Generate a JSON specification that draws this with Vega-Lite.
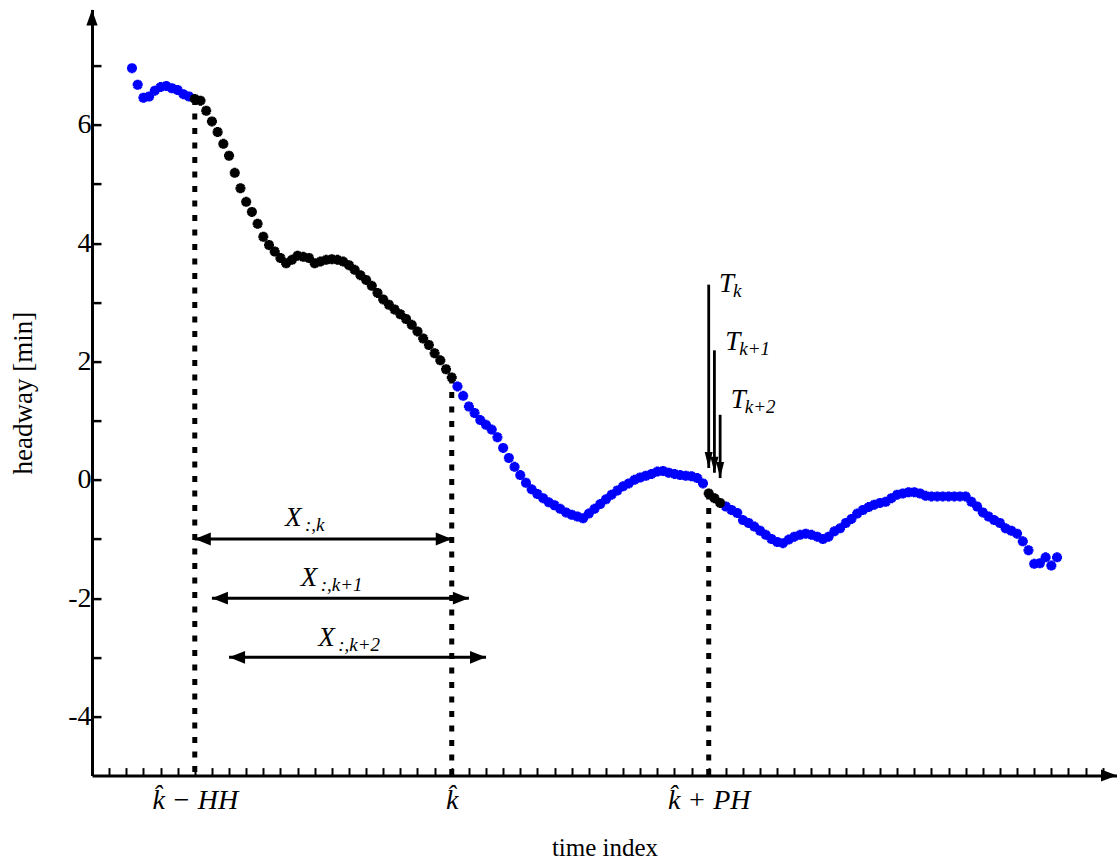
{
  "$schema": "https://vega.github.io/schema/vega-lite/v6.json",
  "width": 1025,
  "height": 766,
  "autosize": {"type": "none"},
  "padding": {"left": 92, "top": 9.6, "right": 0, "bottom": 85.4},
  "background": "white",
  "config": {"view": {"stroke": null}, "font": "Liberation Serif"},
  "datasets": {
    "headway": [
      {"t": 7, "h": 6.96, "seg": "other"}, {"t": 8, "h": 6.68, "seg": "other"}, {"t": 9, "h": 6.46, "seg": "other"},
      {"t": 10, "h": 6.48, "seg": "other"}, {"t": 11, "h": 6.58, "seg": "other"}, {"t": 12, "h": 6.64, "seg": "other"},
      {"t": 13, "h": 6.66, "seg": "other"}, {"t": 14, "h": 6.62, "seg": "other"}, {"t": 15, "h": 6.59, "seg": "other"},
      {"t": 16, "h": 6.52, "seg": "other"}, {"t": 17, "h": 6.48, "seg": "other"},
      {"t": 18, "h": 6.44, "seg": "window"}, {"t": 19, "h": 6.41, "seg": "window"}, {"t": 20, "h": 6.24, "seg": "window"},
      {"t": 21, "h": 6.06, "seg": "window"}, {"t": 22, "h": 5.88, "seg": "window"}, {"t": 23, "h": 5.68, "seg": "window"},
      {"t": 24, "h": 5.48, "seg": "window"}, {"t": 25, "h": 5.19, "seg": "window"}, {"t": 26, "h": 4.93, "seg": "window"},
      {"t": 27, "h": 4.70, "seg": "window"}, {"t": 28, "h": 4.53, "seg": "window"}, {"t": 29, "h": 4.33, "seg": "window"},
      {"t": 30, "h": 4.11, "seg": "window"}, {"t": 31, "h": 3.97, "seg": "window"}, {"t": 32, "h": 3.86, "seg": "window"},
      {"t": 33, "h": 3.75, "seg": "window"}, {"t": 34, "h": 3.66, "seg": "window"}, {"t": 35, "h": 3.72, "seg": "window"},
      {"t": 36, "h": 3.79, "seg": "window"}, {"t": 37, "h": 3.77, "seg": "window"}, {"t": 38, "h": 3.75, "seg": "window"},
      {"t": 39, "h": 3.66, "seg": "window"}, {"t": 40, "h": 3.69, "seg": "window"}, {"t": 41, "h": 3.72, "seg": "window"},
      {"t": 42, "h": 3.73, "seg": "window"}, {"t": 43, "h": 3.72, "seg": "window"}, {"t": 44, "h": 3.69, "seg": "window"},
      {"t": 45, "h": 3.63, "seg": "window"}, {"t": 46, "h": 3.55, "seg": "window"}, {"t": 47, "h": 3.46, "seg": "window"},
      {"t": 48, "h": 3.38, "seg": "window"}, {"t": 49, "h": 3.28, "seg": "window"}, {"t": 50, "h": 3.16, "seg": "window"},
      {"t": 51, "h": 3.05, "seg": "window"}, {"t": 52, "h": 2.96, "seg": "window"}, {"t": 53, "h": 2.88, "seg": "window"},
      {"t": 54, "h": 2.80, "seg": "window"}, {"t": 55, "h": 2.72, "seg": "window"}, {"t": 56, "h": 2.62, "seg": "window"},
      {"t": 57, "h": 2.51, "seg": "window"}, {"t": 58, "h": 2.39, "seg": "window"}, {"t": 59, "h": 2.28, "seg": "window"},
      {"t": 60, "h": 2.14, "seg": "window"}, {"t": 61, "h": 2.02, "seg": "window"}, {"t": 62, "h": 1.87, "seg": "window"},
      {"t": 63, "h": 1.73, "seg": "window"},
      {"t": 64, "h": 1.58, "seg": "other"}, {"t": 65, "h": 1.42, "seg": "other"}, {"t": 66, "h": 1.24, "seg": "other"},
      {"t": 67, "h": 1.13, "seg": "other"}, {"t": 68, "h": 1.01, "seg": "other"}, {"t": 69, "h": 0.93, "seg": "other"},
      {"t": 70, "h": 0.85, "seg": "other"}, {"t": 71, "h": 0.72, "seg": "other"}, {"t": 72, "h": 0.54, "seg": "other"},
      {"t": 73, "h": 0.37, "seg": "other"}, {"t": 74, "h": 0.22, "seg": "other"}, {"t": 75, "h": 0.08, "seg": "other"},
      {"t": 76, "h": -0.05, "seg": "other"}, {"t": 77, "h": -0.16, "seg": "other"}, {"t": 78, "h": -0.24, "seg": "other"},
      {"t": 79, "h": -0.31, "seg": "other"}, {"t": 80, "h": -0.38, "seg": "other"}, {"t": 81, "h": -0.43, "seg": "other"},
      {"t": 82, "h": -0.49, "seg": "other"}, {"t": 83, "h": -0.55, "seg": "other"}, {"t": 84, "h": -0.59, "seg": "other"},
      {"t": 85, "h": -0.62, "seg": "other"}, {"t": 86, "h": -0.65, "seg": "other"}, {"t": 87, "h": -0.57, "seg": "other"},
      {"t": 88, "h": -0.49, "seg": "other"}, {"t": 89, "h": -0.41, "seg": "other"}, {"t": 90, "h": -0.33, "seg": "other"},
      {"t": 91, "h": -0.25, "seg": "other"}, {"t": 92, "h": -0.18, "seg": "other"}, {"t": 93, "h": -0.11, "seg": "other"},
      {"t": 94, "h": -0.06, "seg": "other"}, {"t": 95, "h": 0.00, "seg": "other"}, {"t": 96, "h": 0.04, "seg": "other"},
      {"t": 97, "h": 0.07, "seg": "other"}, {"t": 98, "h": 0.10, "seg": "other"}, {"t": 99, "h": 0.14, "seg": "other"},
      {"t": 100, "h": 0.15, "seg": "other"}, {"t": 101, "h": 0.12, "seg": "other"}, {"t": 102, "h": 0.10, "seg": "other"},
      {"t": 103, "h": 0.08, "seg": "other"}, {"t": 104, "h": 0.07, "seg": "other"}, {"t": 105, "h": 0.06, "seg": "other"},
      {"t": 106, "h": 0.03, "seg": "other"}, {"t": 107, "h": -0.06, "seg": "other"},
      {"t": 108, "h": -0.23, "seg": "target"}, {"t": 109, "h": -0.31, "seg": "target"}, {"t": 110, "h": -0.39, "seg": "target"},
      {"t": 111, "h": -0.45, "seg": "other"}, {"t": 112, "h": -0.51, "seg": "other"}, {"t": 113, "h": -0.56, "seg": "other"},
      {"t": 114, "h": -0.68, "seg": "other"}, {"t": 115, "h": -0.73, "seg": "other"}, {"t": 116, "h": -0.79, "seg": "other"},
      {"t": 117, "h": -0.86, "seg": "other"}, {"t": 118, "h": -0.93, "seg": "other"}, {"t": 119, "h": -1.00, "seg": "other"},
      {"t": 120, "h": -1.05, "seg": "other"}, {"t": 121, "h": -1.07, "seg": "other"}, {"t": 122, "h": -1.01, "seg": "other"},
      {"t": 123, "h": -0.96, "seg": "other"}, {"t": 124, "h": -0.93, "seg": "other"}, {"t": 125, "h": -0.91, "seg": "other"},
      {"t": 126, "h": -0.93, "seg": "other"}, {"t": 127, "h": -0.96, "seg": "other"}, {"t": 128, "h": -1.00, "seg": "other"},
      {"t": 129, "h": -0.96, "seg": "other"}, {"t": 130, "h": -0.87, "seg": "other"}, {"t": 131, "h": -0.82, "seg": "other"},
      {"t": 132, "h": -0.73, "seg": "other"}, {"t": 133, "h": -0.66, "seg": "other"}, {"t": 134, "h": -0.57, "seg": "other"},
      {"t": 135, "h": -0.51, "seg": "other"}, {"t": 136, "h": -0.46, "seg": "other"}, {"t": 137, "h": -0.42, "seg": "other"},
      {"t": 138, "h": -0.39, "seg": "other"}, {"t": 139, "h": -0.37, "seg": "other"}, {"t": 140, "h": -0.31, "seg": "other"},
      {"t": 141, "h": -0.25, "seg": "other"}, {"t": 142, "h": -0.23, "seg": "other"}, {"t": 143, "h": -0.21, "seg": "other"},
      {"t": 144, "h": -0.21, "seg": "other"}, {"t": 145, "h": -0.23, "seg": "other"}, {"t": 146, "h": -0.27, "seg": "other"},
      {"t": 147, "h": -0.28, "seg": "other"}, {"t": 148, "h": -0.28, "seg": "other"}, {"t": 149, "h": -0.28, "seg": "other"},
      {"t": 150, "h": -0.28, "seg": "other"}, {"t": 151, "h": -0.28, "seg": "other"}, {"t": 152, "h": -0.28, "seg": "other"},
      {"t": 153, "h": -0.28, "seg": "other"}, {"t": 154, "h": -0.37, "seg": "other"}, {"t": 155, "h": -0.45, "seg": "other"},
      {"t": 156, "h": -0.55, "seg": "other"}, {"t": 157, "h": -0.62, "seg": "other"}, {"t": 158, "h": -0.68, "seg": "other"},
      {"t": 159, "h": -0.73, "seg": "other"}, {"t": 160, "h": -0.82, "seg": "other"}, {"t": 161, "h": -0.86, "seg": "other"},
      {"t": 162, "h": -0.91, "seg": "other"}, {"t": 163, "h": -1.04, "seg": "other"}, {"t": 164, "h": -1.19, "seg": "other"},
      {"t": 165, "h": -1.42, "seg": "other"}, {"t": 166, "h": -1.41, "seg": "other"}, {"t": 167, "h": -1.31, "seg": "other"},
      {"t": 168, "h": -1.45, "seg": "other"}, {"t": 169, "h": -1.31, "seg": "other"}
    ],
    "cuts": [
      {"t": 18, "h": 6.44},
      {"t": 63, "h": 1.73},
      {"t": 108, "h": -0.23}
    ],
    "windows": [
      {"from": 18, "to": 63, "level": -1, "lx": 33.8, "ly": -0.78, "main": "X", "sub": ":,k"},
      {"from": 21, "to": 66, "level": -2, "lx": 36.55, "ly": -1.79, "main": "X", "sub": ":,k+1"},
      {"from": 24, "to": 69, "level": -3, "lx": 39.6, "ly": -2.81, "main": "X", "sub": ":,k+2"}
    ],
    "targets": [
      {"t": 108, "top": 3.3, "tip": 0.2, "lx": 109.8, "ly": 3.18, "main": "T", "sub": "k"},
      {"t": 109, "top": 2.19, "tip": 0.12, "lx": 110.9, "ly": 2.2, "main": "T", "sub": "k+1"},
      {"t": 110, "top": 1.1, "tip": 0.03, "lx": 111.85, "ly": 1.22, "main": "T", "sub": "k+2"}
    ],
    "axisTips": [
      {"t": 179.5, "h": -5, "dir": "right"},
      {"t": 0, "h": 7.95, "dir": "up"}
    ]
  },
  "layer": [
    {
      "data": {"name": "cuts"},
      "mark": {"type": "rule", "color": "black", "strokeWidth": 5, "strokeDash": [6, 8.5]},
      "encoding": {
        "x": {
          "field": "t", "type": "quantitative",
          "scale": {"domain": [0, 179.5], "nice": false, "zero": false},
          "axis": {
            "values": [3, 6, 9, 12, 15, 18, 21, 24, 27, 30, 33, 36, 39, 42, 45, 48, 51, 54, 57, 60, 63, 66, 69, 72, 75, 78, 81, 84, 87, 90, 93, 96, 99, 102, 105, 108, 111, 114, 117, 120, 123, 126, 129, 132, 135, 138, 141, 144, 147, 150, 153, 156, 159, 162, 165, 168, 171, 174, 177],
            "tickCount": 200,
            "grid": false,
            "domainColor": "black", "domainWidth": 3,
            "tickColor": "black", "tickWidth": 2, "tickSize": -8,
            "labelExpr": "datum.value == 18 ? 'k̂ − HH' : datum.value == 63 ? 'k̂' : datum.value == 108 ? 'k̂ + PH' : ''",
            "labelFont": "Liberation Serif", "labelFontSize": 28, "labelFontStyle": "italic",
            "labelColor": "black", "labelPadding": 19, "labelOverlap": false, "labelBound": false, "labelFlush": false,
            "title": "time index",
            "titleFont": "Liberation Serif", "titleFontSize": 25, "titleFontWeight": "normal", "titleColor": "black",
            "titlePadding": 21
          }
        },
        "y": {
          "field": "h", "type": "quantitative",
          "scale": {"domain": [-5, 7.95], "nice": false, "zero": false},
          "axis": {
            "values": [-4, -3, -2, -1, 0, 1, 2, 3, 4, 5, 6, 7],
            "tickCount": 100,
            "grid": false,
            "domainColor": "black", "domainWidth": 3,
            "tickColor": "black", "tickWidth": 2.5, "tickSize": -9,
            "labelExpr": "datum.value % 2 == 0 ? '' + datum.value : ''",
            "labelFont": "Liberation Serif", "labelFontSize": 28,
            "labelColor": "black", "labelPadding": 10,
            "title": "headway [min]",
            "titleFont": "Liberation Serif", "titleFontSize": 27, "titleFontWeight": "normal", "titleColor": "black",
            "titlePadding": 30
          }
        },
        "y2": {"datum": -5}
      }
    },
    {
      "data": {"name": "headway"},
      "transform": [{"filter": "datum.seg == 'other'"}],
      "mark": {
        "type": "point",
        "shape": "M-1,0L1,0M0,-1L0,1M-0.71,-0.71L0.71,0.71M-0.71,0.71L0.71,-0.71",
        "size": 100, "filled": false, "strokeWidth": 3.2, "color": "#0000ff", "opacity": 1
      },
      "encoding": {
        "x": {"field": "t", "type": "quantitative"},
        "y": {"field": "h", "type": "quantitative"}
      }
    },
    {
      "data": {"name": "headway"},
      "transform": [{"filter": "datum.seg != 'other'"}],
      "mark": {
        "type": "point",
        "shape": "M-1,0L1,0M0,-1L0,1M-0.71,-0.71L0.71,0.71M-0.71,0.71L0.71,-0.71",
        "size": 100, "filled": false, "strokeWidth": 3.2, "color": "#000000", "opacity": 1
      },
      "encoding": {
        "x": {"field": "t", "type": "quantitative"},
        "y": {"field": "h", "type": "quantitative"}
      }
    },
    {
      "data": {"name": "windows"},
      "mark": {"type": "rule", "color": "black", "strokeWidth": 3},
      "encoding": {
        "x": {"field": "from", "type": "quantitative"},
        "x2": {"field": "to"},
        "y": {"field": "level", "type": "quantitative"}
      }
    },
    {
      "data": {"name": "windows"},
      "mark": {"type": "point", "filled": true, "size": 256, "color": "black", "opacity": 1, "strokeWidth": 0, "shape": "M2,-0.8L0,0L2,0.8Z"},
      "encoding": {
        "x": {"field": "from", "type": "quantitative"},
        "y": {"field": "level", "type": "quantitative"}
      }
    },
    {
      "data": {"name": "windows"},
      "mark": {"type": "point", "filled": true, "size": 256, "color": "black", "opacity": 1, "strokeWidth": 0, "shape": "M-2,-0.8L0,0L-2,0.8Z"},
      "encoding": {
        "x": {"field": "to", "type": "quantitative"},
        "y": {"field": "level", "type": "quantitative"}
      }
    },
    {
      "data": {"name": "windows"},
      "mark": {"type": "text", "font": "Liberation Serif", "fontStyle": "italic", "fontSize": 27, "align": "left", "baseline": "alphabetic", "color": "black"},
      "encoding": {
        "x": {"field": "lx", "type": "quantitative"},
        "y": {"field": "ly", "type": "quantitative"},
        "text": {"field": "main"}
      }
    },
    {
      "data": {"name": "windows"},
      "mark": {"type": "text", "font": "Liberation Serif", "fontStyle": "italic", "fontSize": 19, "align": "left", "baseline": "alphabetic", "dx": 20, "dy": 5, "color": "black"},
      "encoding": {
        "x": {"field": "lx", "type": "quantitative"},
        "y": {"field": "ly", "type": "quantitative"},
        "text": {"field": "sub"}
      }
    },
    {
      "data": {"name": "targets"},
      "mark": {"type": "rule", "color": "black", "strokeWidth": 2.8},
      "encoding": {
        "x": {"field": "t", "type": "quantitative"},
        "y": {"field": "top", "type": "quantitative"},
        "y2": {"field": "tip"}
      }
    },
    {
      "data": {"name": "targets"},
      "mark": {"type": "point", "filled": true, "size": 256, "color": "black", "opacity": 1, "strokeWidth": 0, "shape": "M-0.5,-2L0,0L0.5,-2Z"},
      "encoding": {
        "x": {"field": "t", "type": "quantitative"},
        "y": {"field": "tip", "type": "quantitative"}
      }
    },
    {
      "data": {"name": "targets"},
      "mark": {"type": "text", "font": "Liberation Serif", "fontStyle": "italic", "fontSize": 27, "align": "left", "baseline": "alphabetic", "color": "black"},
      "encoding": {
        "x": {"field": "lx", "type": "quantitative"},
        "y": {"field": "ly", "type": "quantitative"},
        "text": {"field": "main"}
      }
    },
    {
      "data": {"name": "targets"},
      "mark": {"type": "text", "font": "Liberation Serif", "fontStyle": "italic", "fontSize": 19, "align": "left", "baseline": "alphabetic", "dx": 14, "dy": 5, "color": "black"},
      "encoding": {
        "x": {"field": "lx", "type": "quantitative"},
        "y": {"field": "ly", "type": "quantitative"},
        "text": {"field": "sub"}
      }
    },
    {
      "data": {"name": "axisTips"},
      "transform": [{"filter": "datum.dir == 'right'"}],
      "mark": {"type": "point", "filled": true, "size": 256, "color": "black", "opacity": 1, "strokeWidth": 0, "shape": "M-2,-0.75L0,0L-2,0.75Z"},
      "encoding": {
        "x": {"field": "t", "type": "quantitative"},
        "y": {"field": "h", "type": "quantitative"}
      }
    },
    {
      "data": {"name": "axisTips"},
      "transform": [{"filter": "datum.dir == 'up'"}],
      "mark": {"type": "point", "filled": true, "size": 256, "color": "black", "opacity": 1, "strokeWidth": 0, "shape": "M-0.7,2L0,0L0.7,2Z"},
      "encoding": {
        "x": {"field": "t", "type": "quantitative"},
        "y": {"field": "h", "type": "quantitative"}
      }
    }
  ]
}
